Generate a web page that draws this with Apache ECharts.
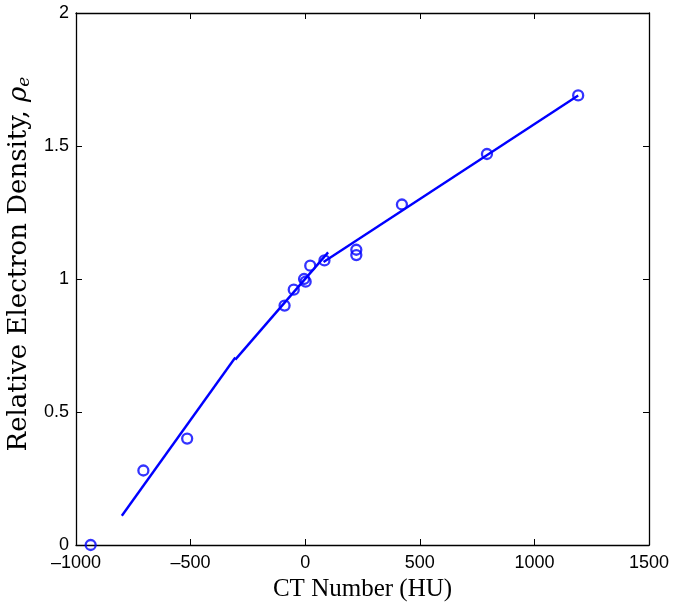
<!DOCTYPE html>
<html>
<head>
<meta charset="utf-8">
<script src="https://cdn.jsdelivr.net/npm/echarts@6/dist/echarts.min.js"></script>
<style>html,body{margin:0;padding:0;background:#fff;}#c{width:675px;height:602px;}</style>
</head>
<body>
<div id="c"></div>
<script>
// Measured points
const ctNumbers = [-936, -706, -515, -90, -50, -5, 2, 22, 84, 223, 223, 422, 793, 1191];
const density   = [0, 0.28, 0.40, 0.90, 0.96, 1.00, 0.99, 1.05, 1.07, 1.11, 1.09, 1.28, 1.47, 1.69];
// Piecewise linear fit segments
const fit1X = [-800, -305];
const fit1Y = [0.11, 0.705];
const fit2X = [-305, 100];
const fit2Y = [0.697, 1.10];
const fit3X = [80, 1191];
const fit3Y = [1.064, 1.69];
// Axis ticks
const xMin = -1000, xMax = 1500, xStep = 500;
const yMin = 0, yMax = 2, yStep = 0.5;

const pairs = (xs, ys) => xs.map((x, i) => [x, ys[i]]);
const blue = '#0000ff';
const tickFont = 'Liberation Sans';
const serif = 'Liberation Serif';
const wideSerif = 'DejaVu Serif';

const chart = echarts.init(document.getElementById('c'), null, {renderer: 'canvas'});
const lineSeries = (xs, ys) => ({
  type: 'line', data: pairs(xs, ys), showSymbol: false, symbol: 'none',
  lineStyle: {color: blue, width: 2.4}, animation: false, z: 3
});
chart.setOption({
  animation: false,
  grid: {left: 76, right: 26, top: 13, bottom: 57, outerBoundsMode: 'none', containLabel: false},
  xAxis: [{
    type: 'value', min: xMin, max: xMax, interval: xStep,
    name: 'CT Number (HU)', nameLocation: 'middle', nameGap: 26,
    nameTextStyle: {fontFamily: serif, fontSize: 25, color: '#000'},
    axisLine: {show: true, onZero: false, lineStyle: {color: '#000', width: 1.3}},
    axisTick: {show: true, inside: true, length: 6, lineStyle: {color: '#000'}},
    axisLabel: {fontFamily: tickFont, fontSize: 18, color: '#000', margin: 9,
      formatter: v => String(v).replace('-', '\u2013')},
    splitLine: {show: false}
  }, {
    type: 'value', position: 'top', min: xMin, max: xMax, interval: xStep,
    axisLine: {show: true, onZero: false, lineStyle: {color: '#000', width: 1.3}},
    axisTick: {show: true, inside: true, length: 6, lineStyle: {color: '#000'}},
    axisLabel: {show: false}, splitLine: {show: false}
  }],
  yAxis: [{
    type: 'value', min: yMin, max: yMax, interval: yStep,
    name: 'Relative Electron Density, {it|ρ}{sub|e}', nameLocation: 'middle', nameGap: 40,
    nameTextStyle: {fontFamily: wideSerif, fontSize: 26, color: '#000', padding: [0, 0, 0, 30],
      rich: {
        it: {fontFamily: wideSerif, fontStyle: 'italic', fontSize: 26, color: '#000'},
        sub: {fontFamily: wideSerif, fontStyle: 'italic', fontSize: 17, color: '#000', padding: [11, 0, 0, 0]}
      }},
    axisLine: {show: true, onZero: false, lineStyle: {color: '#000', width: 1.3}},
    axisTick: {show: true, inside: true, length: 6, lineStyle: {color: '#000'}},
    axisLabel: {fontFamily: tickFont, fontSize: 18, color: '#000', margin: 7,
      formatter: v => String(v)},
    splitLine: {show: false}
  }, {
    type: 'value', position: 'right', min: yMin, max: yMax, interval: yStep,
    axisLine: {show: true, onZero: false, lineStyle: {color: '#000', width: 1.3}},
    axisTick: {show: true, inside: true, length: 6, lineStyle: {color: '#000'}},
    axisLabel: {show: false}, splitLine: {show: false}
  }],
  series: [
    lineSeries(fit1X, fit1Y),
    lineSeries(fit2X, fit2Y),
    lineSeries(fit3X, fit3Y),
    {
      type: 'scatter', data: pairs(ctNumbers, density),
      symbol: 'circle', symbolSize: 10,
      itemStyle: {color: 'transparent', borderColor: blue, borderWidth: 2.3},
      z: 4, animation: false
    }
  ]
});
</script>
</body>
</html>
